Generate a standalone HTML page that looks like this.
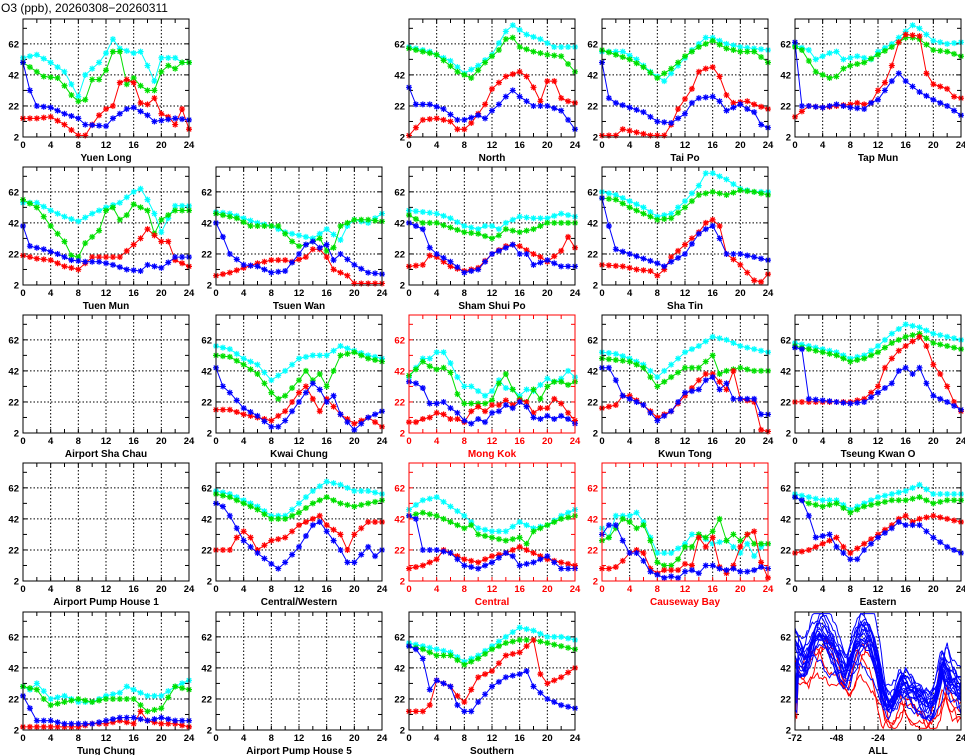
<!DOCTYPE html>
<html><head><meta charset="utf-8"><style>
html,body{margin:0;padding:0;background:#fff;}
svg{display:block;}
text{font-family:"Liberation Sans",sans-serif;}
</style></head><body>
<svg id="s" width="965" height="755" xmlns="http://www.w3.org/2000/svg">
<text x="1" y="12" font-size="12" fill="#000">O3 (ppb), 20260308−20260311</text>
</svg>
<script>
var S=document.getElementById('s');var out='';
var L=[23,216,409,602,795],T=[19,167,315,463,612],W=166,H=118;
var C={c:'#00ffff',g:'#00e000',r:'#ff0000',b:'#0000ff'};
function P(o){var k=Object.keys(o).map(Number).sort(function(a,b){return a-b});var a=[];for(var h=0;h<=24;h++){for(var i=0;i<k.length-1;i++){if(h>=k[i]&&h<=k[i+1]){var t=(h-k[i])/(k[i+1]-k[i]||1);a.push(o[k[i]]+(o[k[i+1]]-o[k[i]])*t);break;}}}return a;}
var D={
'Yuen Long':[[0,0],{0:53,2:55,4:50,6:44,8:28,9:42,11:50,12:56,13:65,14:59,16:56,17:57,18:48,19:38,20:53,22:53,23:50,24:50},{0:50,3:41,5:40,6:35,7:29,8:25,9:26,10:39,11:39,12:45,13:57,14:57,15:36,16:40,17:35,18:32,19:32,20:44,21:48,22:46,23:50,24:50},{0:14,2:14,4:15,6:10,8:3,9:3,10:10,11:16,12:20,13:22,14:37,15:39,16:37,17:24,18:23,19:27,20:17,21:15,22:10,23:20,24:7},{0:50,1:32,2:22,4:21,6:17,8:14,9:10,12:9,13:14,15:20,16:21,18:16,19:12,22:14,24:13}],
'North':[[2,0],{0:60,3:57,6:51,8:43,10:48,12:55,14:70,15:74,17:68,19:65,21:60,24:60},{0:59,4:55,7:44,9:40,11:50,13:58,14:65,15:66,16:60,18:57,20:55,22:54,24:44},{0:3,1:8,2:13,4:14,6:12,7:7,8:7,9:11,11:23,12:33,13:37,14:41,16:44,17:41,18:34,19:25,20:38,21:38,22:27,23:25,24:24},{0:34,1:23,3:23,5:20,7:13,8:13,10:16,11:14,12:19,13:23,14:28,15:32,16:28,18:22,20:22,22:19,23:13,24:7}],
'Tai Po':[[3,0],{0:57,3:57,5:52,7:44,9:38,11:48,13:58,15:66,16:66,18:62,20:60,24:58},{0:58,2:55,4:52,6:47,8:40,10:46,12:54,14:60,16:64,18:59,20:57,22:57,24:50},{0:3,2:3,3:7,5:5,7:3,9:3,10:10,11:20,13:33,14:44,15:46,16:47,17:41,18:29,19:24,21:25,22:23,24:20},{0:50,1:27,2:24,4:21,6:18,8:12,10:11,11:14,12:17,13:24,14:27,16:28,17:25,18:19,20:23,21:20,22:18,23:10,24:8}],
'Tap Mun':[[4,0],{0:61,2:58,3:52,5:56,6:57,7:52,9:54,11:52,12:57,14:62,16:70,17:74,18:72,20:64,22:62,24:63},{0:60,1:58,3:44,5:40,6:41,7:46,8:48,10:50,12:55,14:60,16:66,17:66,18:65,20:58,22:57,24:54},{0:15,2:22,4:21,6:22,8:23,9:24,10:23,11:24,12:32,13:37,14:48,15:63,16:68,18:67,19:43,20:36,22:33,23:28,24:27},{0:63,1:22,2:22,4:21,6:23,8:21,10:20,11:24,12:26,13:32,14:38,15:43,16:38,18:31,20:26,22:22,24:16}],
'Tuen Mun':[[0,1],{0:55,2:55,4:50,6:46,8:43,10:48,12:52,14:55,16:62,17:64,18:57,19:48,20:36,21:45,22:53,24:53},{0:57,2:52,4:40,6:30,7:21,8:20,9:29,11:37,12:50,13:52,14:44,15:47,16:54,18:50,19:35,20:44,22:50,24:50},{0:21,2:19,4:18,6:14,8:12,10:20,12:20,14:20,15:24,16:28,17:32,18:38,19:34,20:30,21:30,22:18,24:14},{0:40,1:27,3:25,5:22,7:18,9:17,11:17,13:15,15:12,17:11,18:15,20:13,22:20,24:20}],
'Tsuen Wan':[[1,1],{0:49,2:48,4:45,6:42,8:40,10:36,12:34,14:32,16:38,18:31,19:40,20:44,22:42,24:48},{0:48,2:46,3:45,5:40,7:40,9:40,11:30,12:27,13:28,14:30,15:32,16:24,17:26,18:40,20:44,22:44,24:43},{0:8,2:10,4:13,6:16,8:18,10:18,11:17,13:20,14:25,15:25,16:20,17:12,18:10,19:8,20:3,22:3,24:3},{0:42,1:33,2:22,4:15,6:14,8:10,10:11,12:22,13:28,14:30,15:26,16:28,17:18,18:22,20:15,22:10,24:9}],
'Sham Shui Po':[[2,1],{0:50,2:49,4:48,6:45,8:40,10:38,11:40,12:40,13:38,14:42,16:46,18:45,20:45,22:48,24:46},{0:47,2:42,4:42,6:39,8:36,10:35,12:32,13:34,14:38,16:36,18:38,20:42,22:42,24:42},{0:14,2:15,3:21,4:20,6:14,8:11,10:13,12:22,14:27,15:28,16:27,18:22,19:20,20:17,22:24,23:33,24:26},{0:42,2:38,3:26,4:22,6:17,8:10,10:12,12:22,13:24,15:28,16:22,17:22,18:15,20:18,22:14,24:14}],
'Sha Tin':[[3,1],{0:62,2:60,4:56,6:52,8:46,10:48,12:56,14:66,15:74,16:74,18:70,20:64,22:62,24:62},{0:58,2:57,4:52,6:48,8:44,10:45,12:52,14:60,16:62,18:60,20:63,22:62,24:60},{0:15,3:14,5:12,7:11,8:8,9:12,10:20,12:28,14:36,15:42,16:44,17:40,18:22,20:15,22:5,23:4,24:9},{0:58,1:40,2:25,4:22,6:19,8:16,9:14,10:17,12:22,14:35,15:38,16:40,17:32,18:22,20:22,22:20,24:18}],
'Airport Sha Chau':[[0,2]],
'Kwai Chung':[[1,2],{0:58,2:56,4:50,6:46,8:36,10:42,12:50,14:52,16:52,18:58,20:55,22:52,24:50},{0:52,2:51,4:46,6:40,8:28,9:24,10:26,12:36,13:42,14:36,15:40,16:32,17:42,18:52,20:54,22:50,24:48},{0:17,2:17,4:14,6:12,8:10,10:16,11:22,12:28,13:32,14:24,15:16,16:24,18:14,20:8,22:12,24:6},{0:44,1:32,2:28,4:18,6:13,8:6,9:6,10:10,12:22,14:34,15:30,16:22,17:26,18:14,20:4,22:12,24:16}],
'Mong Kok':[[2,2,1],{0:38,1:44,2:50,3:50,4:54,5:54,6:47,7:38,8:32,9:32,10:29,11:26,12:29,13:36,14:31,15:30,16:26,17:30,18:29,19:33,20:37,21:35,22:37,23:42,24:38},{0:39,1:43,2:48,3:45,4:43,5:44,6:41,7:27,8:21,9:21,10:21,11:21,12:23,13:34,14:40,15:30,16:24,17:22,18:30,19:24,20:32,21:35,22:35,23:33,24:35},{0:9,1:9,2:11,3:12,4:15,5:14,6:11,7:11,8:9,9:16,10:19,11:16,12:20,13:20,14:23,15:20,16:23,17:22,18:15,19:18,20:18,21:24,22:21,23:15,24:10},{0:35,1:34,2:31,3:21,4:21,5:22,6:18,7:15,8:10,9:8,10:11,11:9,12:15,13:16,14:20,15:18,16:22,17:19,18:12,19:11,20:13,21:11,22:13,23:11,24:8}],
'Kwun Tong':[[3,2],{0:54,2:53,4:50,6:46,8:38,10:46,12:54,14:58,16:64,18:62,20:58,22:56,24:54},{0:50,2:49,4:48,6:44,8:32,10:38,12:44,14:44,15:48,16:52,17:40,18:42,20:44,22:42,24:42},{0:18,2:20,3:26,4:26,6:20,8:12,10:16,12:26,14:36,15:40,16:40,18:30,19:42,20:24,22:22,23:4,24:3},{0:44,1:44,2:36,3:26,4:24,6:20,8:10,10:16,12:28,14:30,15:36,16:38,17:30,18:34,19:24,20:24,22:24,23:14,24:14}],
'Tseung Kwan O':[[4,2],{0:60,2:58,4:56,6:54,8:50,10:52,12:58,14:66,16:72,18:70,20:66,22:64,24:62},{0:58,2:56,4:54,6:52,8:48,10:50,12:54,14:60,16:64,18:66,20:60,22:58,24:56},{0:22,4:22,8:22,10:24,12:32,13:44,14:50,15:55,16:58,18:64,19:58,20:46,21:40,22:32,23:22,24:16},{0:57,1:56,2:24,4:23,6:22,8:21,10:22,12:28,14:34,15:42,16:44,17:40,18:44,19:34,20:26,22:22,24:17}],
'Airport Pump House 1':[[0,3]],
'Central/Western':[[1,3],{0:60,2:58,4:54,6:50,8:44,10:44,12:52,14:60,16:66,18:64,20:60,22:60,24:58},{0:58,2:56,4:52,6:48,8:42,10:42,12:46,14:52,16:56,18:52,20:50,22:52,24:54},{0:22,2:22,3:30,4:34,5:30,6:22,8:28,10:30,12:38,14:42,15:44,16:38,18:32,19:22,20:32,22:40,24:40},{0:52,1:50,2:44,4:28,6:20,8:13,9:10,10:14,12:24,14:38,15:40,16:34,18:22,19:14,20:14,22:24,23:18,24:22}],
'Central':[[2,3,1],{0:48,2:54,4:56,6:50,8:44,10:36,12:34,14:34,16:40,18:36,20:38,22:44,24:48},{0:44,2:46,4:44,6:40,8:36,9:38,10:32,12:30,14:28,16:30,17:26,18:34,20:38,22:42,24:44},{0:10,2:12,4:16,5:22,6:20,8:16,10:14,12:18,14:20,16:24,18:20,20:16,22:14,24:12},{0:44,1:42,2:22,4:22,6:20,8:12,10:10,12:14,14:20,15:18,16:12,18:14,20:18,22:10,24:10}],
'Causeway Bay':[[3,3,1],{0:36,1:30,2:44,4:44,5:46,6:40,7:30,8:20,10:20,12:26,13:32,14:32,16:26,18:28,20:20,21:26,22:18,23:24,24:26},{0:28,1:30,2:36,3:42,4:40,5:36,6:38,7:28,8:14,9:12,10:12,11:16,12:24,13:24,14:32,15:30,16:34,17:42,18:28,19:32,20:28,21:32,22:26,23:26,24:26},{0:10,1:10,2:11,3:15,4:20,5:22,6:20,7:10,8:7,9:9,10:9,11:9,12:13,13:12,14:30,15:24,16:30,17:11,18:7,19:12,20:24,21:32,22:34,23:14,24:4},{0:32,1:38,2:38,3:28,4:20,5:20,6:15,7:8,8:6,9:4,10:5,11:4,12:8,13:9,14:7,15:12,16:12,17:10,18:9,19:10,20:8,21:8,22:9,23:11,24:10}],
'Eastern':[[4,3],{0:58,2:56,4:54,6:54,8:48,10:52,12:56,14:58,16:60,18:64,20:58,22:58,24:58},{0:56,2:52,4:50,6:52,8:46,10:50,12:52,14:54,16:54,18:56,20:52,22:54,24:54},{0:20,2:22,4:26,6:30,7:24,8:20,10:26,12:32,14:38,15:42,16:44,17:40,18:42,20:44,22:42,24:40},{0:56,1:54,2:44,3:30,5:32,6:24,8:16,9:16,10:22,12:30,14:36,15:40,16:38,18:38,20:30,22:24,24:20}],
'Tung Chung':[[0,4],{0:30,1:28,2:32,4:22,6:24,8:20,10:20,12:24,14:26,15:30,16:28,18:24,20:24,22:30,24:34},{0:30,2:28,3:22,4:18,6:20,8:22,10:20,12:22,14:22,16:22,18:14,20:16,22:30,24:28},{0:4,2:4,4:4,6:4,8:4,10:6,12:6,14:8,16:6,17:14,18:8,20:6,22:6,24:4},{0:24,1:16,2:8,4:8,6:6,8:6,10:6,12:8,14:10,16:10,18:8,20:10,22:8,24:8}],
'Airport Pump House 5':[[1,4]],
'Southern':[[2,4],{0:58,2:56,4:54,6:52,8:46,10:50,12:56,14:62,16:68,18:66,20:62,22:62,24:60},{0:56,2:54,4:50,6:50,8:44,10:48,12:54,14:58,16:60,18:60,20:58,22:56,24:54},{0:14,2:14,3:18,4:34,5:32,6:30,7:24,8:20,10:36,12:40,14:50,16:52,17:56,18:60,19:38,20:32,22:36,24:42},{0:56,1:54,2:48,3:28,4:34,6:30,7:18,8:14,9:14,10:20,12:30,14:36,16:38,17:40,18:30,20:22,22:18,24:16}]
};
function frame(x,y,col,xl,xmin,xmax,title){
 var s='';var fx=function(v){return x+(v-xmin)/(xmax-xmin)*W};var fy=function(v){return y+H-(v-2)/76*H};
 [22,42,62].forEach(function(v){s+='<line x1="'+x+'" x2="'+(x+W)+'" y1="'+fy(v)+'" y2="'+fy(v)+'" stroke="#000" stroke-dasharray="1.5,2" stroke-width="1"/>';});
 var st=(xmax-xmin)/6;for(var i=1;i<6;i++){var xx=fx(xmin+st*i);s+='<line x1="'+xx+'" x2="'+xx+'" y1="'+y+'" y2="'+(y+H)+'" stroke="#000" stroke-dasharray="1.5,2" stroke-width="1"/>';}
 for(var i=0;i<=12;i++){var xx=fx(xmin+st/2*i);s+='<line x1="'+xx+'" x2="'+xx+'" y1="'+y+'" y2="'+(y+4)+'" stroke="'+col+'"/><line x1="'+xx+'" x2="'+xx+'" y1="'+(y+H)+'" y2="'+(y+H-4)+'" stroke="'+col+'"/>';}
 for(var v=12;v<=72;v+=10){s+='<line x1="'+x+'" x2="'+(x+4)+'" y1="'+fy(v)+'" y2="'+fy(v)+'" stroke="'+col+'"/><line x1="'+(x+W)+'" x2="'+(x+W-4)+'" y1="'+fy(v)+'" y2="'+fy(v)+'" stroke="'+col+'"/>';}
 [2,22,42,62].forEach(function(v){s+='<text x="'+(x-4)+'" y="'+(fy(v)+3.5)+'" font-size="9.5" font-weight="bold" text-anchor="end" fill="'+col+'">'+v+'</text>';});
 xl.forEach(function(v,i){s+='<text x="'+fx(xmin+st*i*(6/(xl.length-1)))+'" y="'+(y+H+11)+'" font-size="9.5" font-weight="bold" text-anchor="middle" fill="'+col+'">'+v+'</text>';});
 s+='<text x="'+(x+W/2)+'" y="'+(y+H+24)+'" font-size="10" font-weight="bold" text-anchor="middle" fill="'+col+'" font-family="Liberation Serif,serif">'+title+'</text>';
 return {s:s,fx:fx,fy:fy};
}
function star(x,y,c){var r=3;return '<path d="M'+(x-r)+' '+y+'H'+(x+r)+'M'+x+' '+(y-r)+'V'+(y+r)+'M'+(x-2.2)+' '+(y-2.2)+'L'+(x+2.2)+' '+(y+2.2)+'M'+(x-2.2)+' '+(y+2.2)+'L'+(x+2.2)+' '+(y-2.2)+'" stroke="'+c+'" stroke-width="1.2"/>';}
var body='';
for(var name in D){var d=D[name];var cx=L[d[0][0]],cy=T[d[0][1]];var col=d[0][2]?'#ff0000':'#000';
 var f=frame(cx,cy,col,[0,4,8,12,16,20,24],0,24,name);body+=f.s;
 ['c','g','r','b'].forEach(function(k,i){if(!d[i+1])return;var a=P(d[i+1]);var pts=a.map(function(v,h){return f.fx(h).toFixed(1)+','+f.fy(v).toFixed(1)}).join(' ');
  body+='<polyline points="'+pts+'" fill="none" stroke="'+C[k]+'" stroke-width="1"/>';a.forEach(function(v,h){body+=star(f.fx(h),f.fy(v),C[k]);});});
 body+='<rect x="'+cx+'" y="'+cy+'" width="'+W+'" height="'+H+'" fill="none" stroke="'+col+'" stroke-width="1"/>';
}
// ALL panel
var f=frame(795,612,'#000',[-72,-48,-24,0,24],-72,24,'ALL');body+=f.s;
var seed=7;function rnd(){seed=(seed*16807)%2147483647;return seed/2147483647;}
var base={'-72':52,'-66':44,'-60':62,'-56':64,'-48':48,'-42':36,'-36':58,'-32':62,'-26':50,'-24':40,'-20':18,'-16':14,'-10':30,'-6':22,'0':16,'6':12,'10':22,'14':44,'18':30,'22':26,'24':18};
var bk=Object.keys(base).map(Number).sort(function(a,b){return a-b});
function bv(t){for(var i=0;i<bk.length-1;i++){if(t>=bk[i]&&t<=bk[i+1]){var u=(t-bk[i])/(bk[i+1]-bk[i]);return base[bk[i]]+(base[bk[i+1]]-base[bk[i]])*u;}}return 20;}
function line(c,off,amp){var p=[];var sc=0.72+rnd()*0.42,ph=rnd()*6,sh=(rnd()-0.5)*4;var n=0;for(var t=-72;t<=24;t+=1){n+=(rnd()-0.5)*6;n*=0.8;var v=(bv(t+sh)+off)*sc+amp*Math.sin(t/4+ph)+n;v=Math.max(3,Math.min(77,v));p.push(f.fx(t).toFixed(1)+','+f.fy(v).toFixed(1));}
 return '<polyline points="'+p.join(' ')+'" fill="none" stroke="'+c+'" stroke-width="1"/>';}
for(var i=0;i<4;i++)body+=line('#ff0000',-10,5);
for(var i=0;i<18;i++)body+=line('#0000ff',6,6);
body+='<rect x="795" y="612" width="'+W+'" height="'+H+'" fill="none" stroke="#000"/>';
S.insertAdjacentHTML('beforeend',body);
</script>
</body></html>
